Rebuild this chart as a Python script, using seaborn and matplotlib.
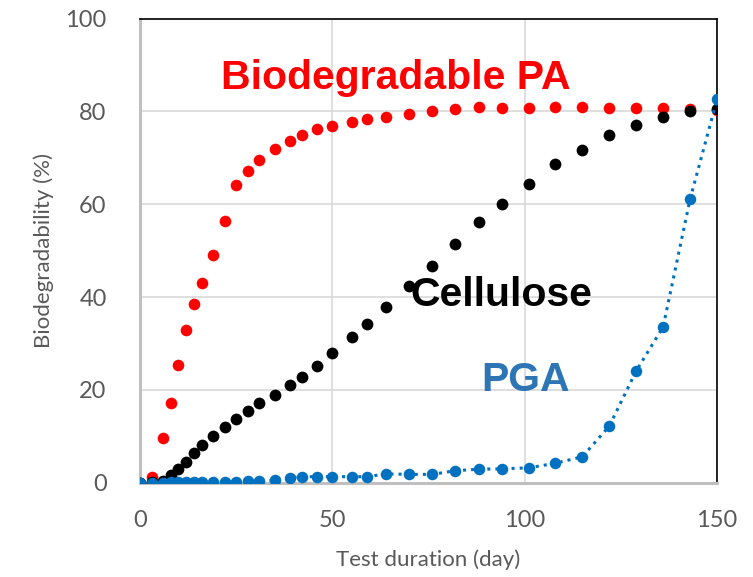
import matplotlib
matplotlib.use("Agg")
import matplotlib.pyplot as plt
import seaborn as sns
import pandas as pd

# Días de ensayo (comunes a las tres series)
days = [0, 3, 6, 8, 10, 12, 14, 16, 19, 22, 25, 28, 31, 35, 39, 42, 46, 50,
        55, 59, 64, 70, 76, 82, 88, 94, 101, 108, 115, 122, 129, 136, 143, 150]

pa_values = [0, 1.3, 9.6, 17.2, 25.4, 32.9, 38.5, 43.0, 49.1, 56.3, 64.2, 67.2,
             69.6, 71.9, 73.7, 75.0, 76.3, 76.9, 77.8, 78.3, 78.8, 79.4, 80.0,
             80.5, 80.9, 80.8, 80.8, 81.0, 81.0, 80.8, 80.8, 80.8, 80.6, 80.3]

cellulose_values = [0, 0.2, 0.4, 1.7, 2.9, 4.4, 6.5, 8.1, 10.1, 12.1, 13.8,
                    15.5, 17.1, 18.9, 21.1, 22.8, 25.2, 28.0, 31.3, 34.1, 37.9,
                    42.4, 46.7, 51.4, 56.1, 60.1, 64.4, 68.6, 71.8, 74.9, 77.1,
                    78.9, 80.0, 80.6]

pga_values = [0, 0, 0, 0.1, 0.1, 0.1, 0.1, 0.1, 0.2, 0.2, 0.2, 0.3, 0.4, 0.5,
              1.1, 1.3, 1.3, 1.3, 1.3, 1.3, 1.9, 1.8, 1.8, 2.6, 2.9, 3.0, 3.2,
              4.2, 5.6, 12.2, 24.1, 33.6, 61.1, 82.6]

x_ticks = [0, 50, 100, 150]
y_ticks = [0, 20, 40, 60, 80, 100]

df = pd.DataFrame({
    "day": days,
    "pa": pa_values,
    "cellulose": cellulose_values,
    "pga": pga_values,
})

sns.set_style("white")
plt.rcParams["font.family"] = ["Lato", "DejaVu Sans"]

fig = plt.figure(figsize=(7.53, 5.77), dpi=100)
ax = fig.add_axes([0.1859, 0.1634, 0.7663, 0.8042])

sns.scatterplot(data=df, x="day", y="pa", ax=ax, color="#ff0000",
                s=70, linewidth=0, zorder=3)
sns.scatterplot(data=df, x="day", y="cellulose", ax=ax, color="black",
                s=72, linewidth=0, zorder=4)
sns.lineplot(data=df, x="day", y="pga", ax=ax, color="#0070c0",
             linestyle=":", linewidth=2.2, marker="o", markersize=8.3,
             markeredgewidth=0, zorder=5)

ax.set_xlim(0, 150)
ax.set_ylim(0, 100)
ax.set_xticks(x_ticks)
ax.set_yticks(y_ticks)
ax.grid(True, color="#d9d9d9", linewidth=1.2, zorder=0)
ax.set_axisbelow(True)

for side in ["left", "bottom"]:
    ax.spines[side].set_color("#bfbfbf")
    ax.spines[side].set_linewidth(2.2)
for side in ["top", "right"]:
    ax.spines[side].set_color("black")
    ax.spines[side].set_linewidth(1.2)

ax.tick_params(axis="both", length=0, labelsize=17, labelcolor="#595959")
ax.tick_params(axis="y", pad=24)
ax.tick_params(axis="x", pad=20)
ax.set_xlabel("Test duration (day)", fontsize=16, color="#595959", labelpad=13)
ax.set_ylabel("Biodegradability (%)", fontsize=16, color="#595959", labelpad=8)

ax.text(66.5, 87.2, "Biodegradable PA", color="#ff0000", fontsize=29.5,
        fontweight="bold", family="Liberation Sans", ha="center", va="center")
ax.text(93.8, 40.4, "Cellulose", color="black", fontsize=29.5,
        fontweight="bold", family="Liberation Sans", ha="center", va="center")
ax.text(100.2, 22.1, "PGA", color="#2e75b6", fontsize=29.5,
        fontweight="bold", family="Liberation Sans", ha="center", va="center")

fig.savefig("out.png", dpi=100)
plt.close(fig)
